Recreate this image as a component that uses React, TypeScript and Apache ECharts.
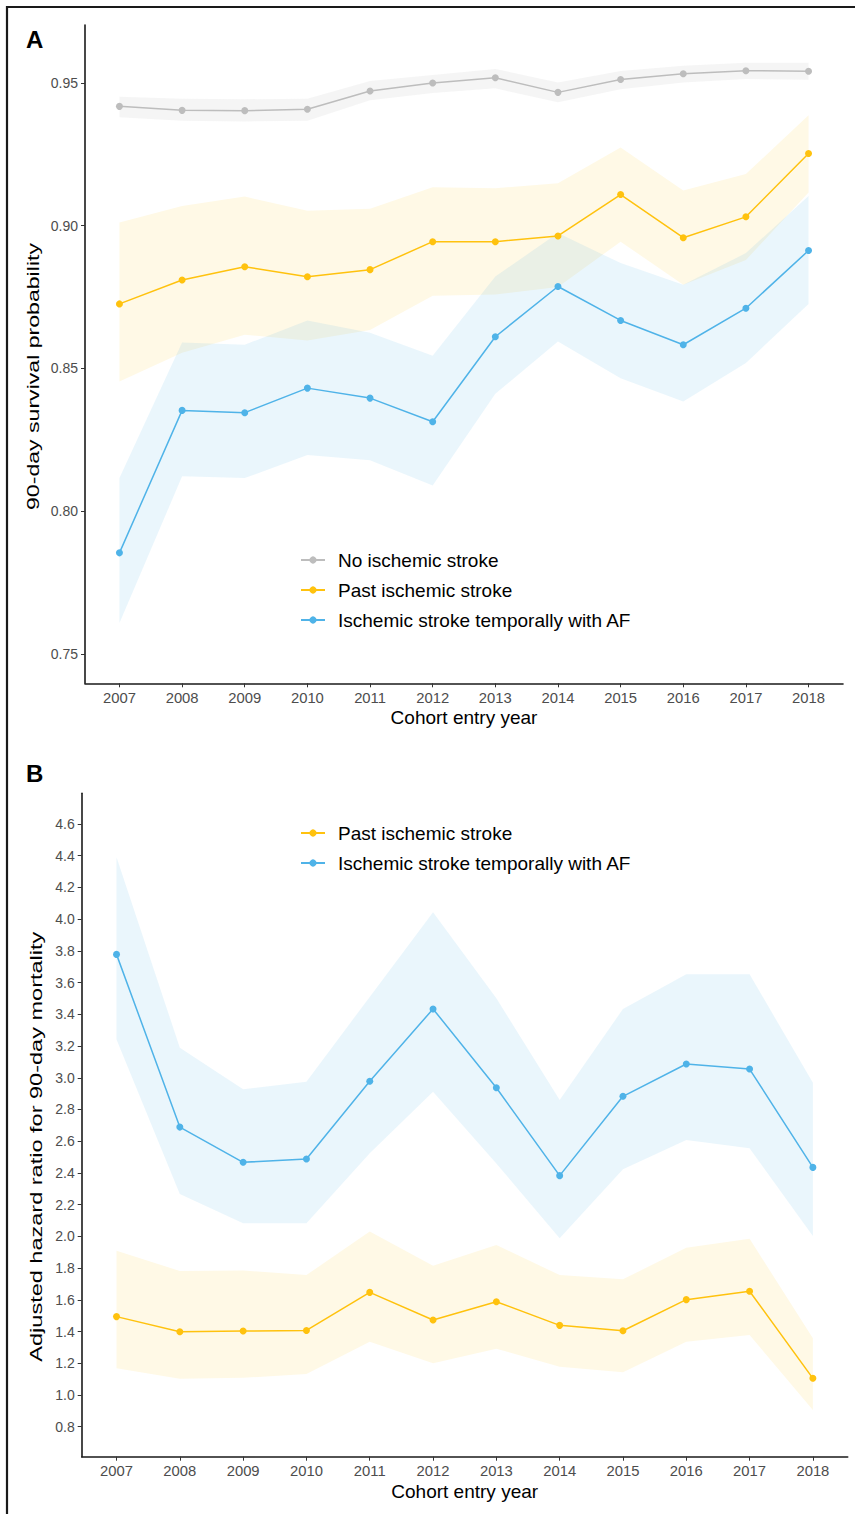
import React, { useEffect, useRef } from "react";
import * as echarts from "echarts";

const years = [2007, 2008, 2009, 2010, 2011, 2012, 2013, 2014, 2015, 2016, 2017, 2018];

// Panel A: 90-day survival probability
const noStroke = [0.9418, 0.9404, 0.9403, 0.9408, 0.9472, 0.95, 0.9518, 0.9467, 0.9512, 0.9532, 0.9543, 0.9541];
const noStrokeLo = [0.938, 0.9368, 0.9365, 0.9368, 0.9439, 0.9465, 0.9481, 0.9432, 0.9478, 0.9502, 0.9514, 0.9511];
const noStrokeHi = [0.9452, 0.9445, 0.9443, 0.9445, 0.9507, 0.9528, 0.9549, 0.9502, 0.9542, 0.956, 0.9571, 0.9571];

const pastA = [0.8726, 0.881, 0.8856, 0.8821, 0.8846, 0.8944, 0.8944, 0.8964, 0.9109, 0.8958, 0.9031, 0.9253];
const pastALo = [0.8454, 0.8555, 0.8618, 0.8598, 0.8635, 0.8755, 0.8759, 0.8785, 0.8944, 0.8793, 0.888, 0.9116];
const pastAHi = [0.9011, 0.9069, 0.9102, 0.9052, 0.9059, 0.9135, 0.9131, 0.9149, 0.9274, 0.9123, 0.9181, 0.9387];

const afA = [0.7854, 0.8353, 0.8345, 0.8431, 0.8396, 0.8313, 0.8611, 0.8787, 0.8668, 0.8583, 0.8711, 0.8913];
const afALo = [0.7608, 0.8122, 0.8116, 0.8197, 0.8178, 0.809, 0.8411, 0.8594, 0.8466, 0.8384, 0.8519, 0.8726];
const afAHi = [0.8116, 0.8591, 0.8583, 0.8668, 0.8625, 0.8544, 0.8822, 0.8974, 0.8869, 0.8793, 0.8904, 0.9104];

// Panel B: adjusted hazard ratio for 90-day mortality
const pastHR = [1.494, 1.399, 1.403, 1.407, 1.647, 1.473, 1.588, 1.439, 1.405, 1.601, 1.654, 1.105];
const pastHRLo = [1.168, 1.102, 1.108, 1.132, 1.336, 1.2, 1.292, 1.178, 1.143, 1.336, 1.378, 0.905];
const pastHRHi = [1.91, 1.782, 1.785, 1.756, 2.03, 1.815, 1.946, 1.756, 1.729, 1.928, 1.985, 1.357];

const afHR = [3.778, 2.689, 2.467, 2.488, 2.978, 3.434, 2.937, 2.383, 2.883, 3.087, 3.055, 2.435];
const afHRLo = [3.242, 2.267, 2.082, 2.082, 2.524, 2.912, 2.46, 1.988, 2.423, 2.608, 2.555, 2.002];
const afHRHi = [4.39, 3.19, 2.927, 2.975, 3.51, 4.043, 3.501, 2.86, 3.434, 3.652, 3.652, 2.969];

const yTicksA = [0.75, 0.8, 0.85, 0.9, 0.95];
const yTicksB = [0.8, 1.0, 1.2, 1.4, 1.6, 1.8, 2.0, 2.2, 2.4, 2.6, 2.8, 3.0, 3.2, 3.4, 3.6, 3.8, 4.0, 4.2, 4.4, 4.6];

const NAME_NO = "No ischemic stroke";
const NAME_PAST = "Past ischemic stroke";
const NAME_AF = "Ischemic stroke temporally with AF";
const TITLE_YA = "90-day survival probability";
const TITLE_YB = "Adjusted hazard ratio for 90-day mortality";
const TITLE_X = "Cohort entry year";

const GRAY = "#BDBDBD";
const YELLOW = "#FFC20E";
const BLUE = "#4FB3E8";
const FONT = "'Liberation Sans', Arial, Helvetica, sans-serif";

function band(gridIdx: number, lo: number[], hi: number[], color: string, opacity: number) {
  return {
    type: "custom",
    xAxisIndex: gridIdx,
    yAxisIndex: gridIdx,
    silent: true,
    z: 1,
    data: years.map((y, i) => [y, lo[i], hi[i]]),
    encode: { x: 0, y: [1, 2] },
    renderItem: (params: any, api: any) => {
      if (params.dataIndex !== 0) return null;
      const pts: number[][] = [];
      for (let i = 0; i < years.length; i++) pts.push(api.coord([years[i], hi[i]]));
      for (let i = years.length - 1; i >= 0; i--) pts.push(api.coord([years[i], lo[i]]));
      return {
        type: "polygon",
        shape: { points: pts },
        style: { fill: color, opacity },
      };
    },
  };
}

function line(name: string, gridIdx: number, vals: number[], color: string) {
  return {
    type: "line",
    name,
    xAxisIndex: gridIdx,
    yAxisIndex: gridIdx,
    data: years.map((y, i) => [y, vals[i]]),
    symbol: "circle",
    symbolSize: 7,
    z: 3,
    itemStyle: { color },
    lineStyle: { color, width: 1.5 },
  };
}

function xAxis(gridIdx: number) {
  return {
    type: "value",
    gridIndex: gridIdx,
    min: 2006.45,
    max: 2018.55,
    name: TITLE_X,
    nameLocation: "middle",
    nameGap: 25,
    nameTextStyle: { fontFamily: FONT, fontSize: 19, color: "#000" },
    splitLine: { show: false },
    axisLine: { show: true, lineStyle: { color: "#1a1a1a", width: 1.6 } },
    axisTick: { show: true, length: 4, lineStyle: { color: "#333", width: 1 }, customValues: years },
    axisLabel: {
      customValues: years,
      formatter: (v: number) => String(Math.round(v)),
      fontFamily: FONT,
      fontSize: 14.8,
      color: "#4D4D4D",
      margin: 7,
    },
  };
}

function yAxis(gridIdx: number, min: number, max: number, ticks: number[], digits: number) {
  return {
    type: "value",
    gridIndex: gridIdx,
    min,
    max,
    splitLine: { show: false },
    axisLine: { show: true, lineStyle: { color: "#1a1a1a", width: 1.6 } },
    axisTick: { show: true, length: 4, lineStyle: { color: "#333", width: 1 }, customValues: ticks },
    axisLabel: {
      customValues: ticks,
      formatter: (v: number) => v.toFixed(digits),
      fontFamily: FONT,
      fontSize: 14,
      color: "#4D4D4D",
      margin: 7,
    },
  };
}

function legend(names: string[], top: number) {
  return {
    data: names,
    orient: "vertical",
    left: 300,
    top,
    padding: 0,
    itemWidth: 24,
    itemHeight: 9,
    itemGap: 0,
    selectedMode: false,
    textStyle: { fontFamily: FONT, fontSize: 19, color: "#000", lineHeight: 30, padding: [0, 0, 0, 8] },
  };
}

export default function App() {
  const ref = useRef<HTMLDivElement>(null);
  useEffect(() => {
    if (!ref.current) return;
    const chart = echarts.init(ref.current, null, { renderer: "svg" });
    const option = {
      animation: false,
      backgroundColor: "#fff",
      textStyle: { fontFamily: FONT },
      grid: [
        { left: 85, right: 12, top: 25, height: 658.3, containLabel: false },
        { left: 81.7, right: 7.3, top: 793.3, height: 663.4, containLabel: false },
      ],
      xAxis: [xAxis(0), xAxis(1)],
      yAxis: [yAxis(0, 0.7397, 0.9703, yTicksA, 2), yAxis(1, 0.6108, 4.7936, yTicksB, 1)],
      legend: [legend([NAME_NO, NAME_PAST, NAME_AF], 545), legend([NAME_PAST, NAME_AF], 818)],
      graphic: [
        { type: "line", shape: { x1: 6, y1: 7, x2: 855, y2: 7 }, style: { stroke: "#1a1a1a", lineWidth: 2.2 } },
        { type: "line", shape: { x1: 7, y1: 6, x2: 7, y2: 1514 }, style: { stroke: "#1a1a1a", lineWidth: 2.2 } },
        { type: "text", left: 26, top: 27, style: { text: "A", font: `bold 24px ${FONT}`, fill: "#000" } },
        { type: "text", left: 26, top: 761, style: { text: "B", font: `bold 24px ${FONT}`, fill: "#000" } },
        {
          type: "text",
          x: 33,
          y: 376.5,
          rotation: Math.PI / 2,
          scaleX: 1.444,
          scaleY: 1,
          style: { text: TITLE_YA, font: `16px ${FONT}`, fill: "#000", textAlign: "center", textVerticalAlign: "middle" },
        },
        {
          type: "text",
          x: 36,
          y: 1146.7,
          rotation: Math.PI / 2,
          scaleX: 1.47,
          scaleY: 1,
          style: { text: TITLE_YB, font: `16px ${FONT}`, fill: "#000", textAlign: "center", textVerticalAlign: "middle" },
        },
      ],
      series: [
        band(0, noStrokeLo, noStrokeHi, GRAY, 0.15),
        band(0, pastALo, pastAHi, YELLOW, 0.1),
        band(0, afALo, afAHi, BLUE, 0.12),
        line(NAME_NO, 0, noStroke, GRAY),
        line(NAME_PAST, 0, pastA, YELLOW),
        line(NAME_AF, 0, afA, BLUE),
        band(1, pastHRLo, pastHRHi, YELLOW, 0.1),
        band(1, afHRLo, afHRHi, BLUE, 0.12),
        line(NAME_PAST, 1, pastHR, YELLOW),
        line(NAME_AF, 1, afHR, BLUE),
      ],
    };
    chart.setOption(option as any);
    return () => chart.dispose();
  }, []);
  return (
    <div
      ref={ref}
      style={{ position: "absolute", left: 0, top: 0, width: 855, height: 1514, background: "#fff" }}
    />
  );
}
